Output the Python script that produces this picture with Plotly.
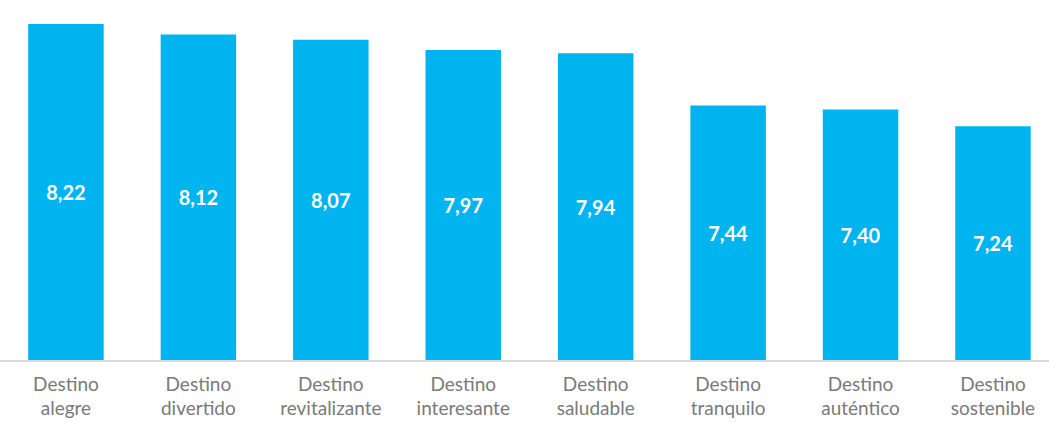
import plotly.graph_objects as go

categories = ["Destino<br>alegre", "Destino<br>divertido", "Destino<br>revitalizante",
              "Destino<br>interesante", "Destino<br>saludable", "Destino<br>tranquilo",
              "Destino<br>auténtico", "Destino<br>sostenible"]
values = [8.22, 8.12, 8.07, 7.97, 7.94, 7.44, 7.40, 7.24]
labels = [f"{v:.2f}".replace(".", ",") for v in values]
axis_base = 5

fig = go.Figure(go.Bar(
    x=categories, y=[v - axis_base for v in values], base=axis_base,
    text=labels, textposition="inside", insidetextanchor="middle",
    textfont=dict(color="white", size=20, family="Lato", weight="bold"),
    marker=dict(color="#00B4F0", line=dict(width=0)),
    width=0.57,
))

fig.update_layout(
    width=1049, height=432,
    margin=dict(l=0, r=0, t=0, b=72),
    plot_bgcolor="white", paper_bgcolor="white",
    showlegend=False,
)
fig.update_xaxes(
    type="category", range=[-0.498, 7.423],
    showline=True, linecolor="#d9d9d9", linewidth=1.5,
    ticks="", ticklabelstandoff=6,
    tickfont=dict(color="#7a7a7a", size=19, family="Lato"),
    showgrid=False,
)
fig.update_yaxes(range=[5, 8.45], visible=False, showgrid=False)

fig.write_html("out.html")
